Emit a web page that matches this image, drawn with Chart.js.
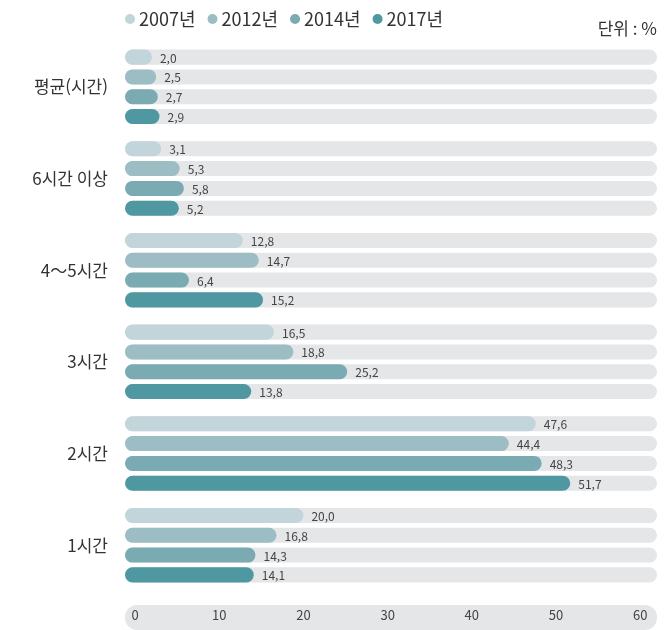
<!DOCTYPE html>
<html lang="ko">
<head>
  <meta charset="UTF-8">
  <title>평균 시간</title>
  <script src="https://cdn.jsdelivr.net/npm/chart.js"></script>
  <style>
    body { margin: 0; background: #fff; }
  </style>
</head>
<body>
  <canvas id="chart" width="668" height="630"></canvas>
  <script>
    const categories = ['평균(시간)', '6시간 이상', '4～5시간', '3시간', '2시간', '1시간'];
    const years = ['2007년', '2012년', '2014년', '2017년'];
    const v2007 = [2.0, 3.1, 12.8, 16.5, 47.6, 20.0];
    const v2012 = [2.5, 5.3, 14.7, 18.8, 44.4, 16.8];
    const v2014 = [2.7, 5.8, 6.4, 25.2, 48.3, 14.3];
    const v2017 = [2.9, 5.2, 15.2, 13.8, 51.7, 14.1];
    const xTicks = [0, 10, 20, 30, 40, 50, 60];
    const unitText = '단위 : %';

    const colors = ['#c2d5da', '#9dbdc4', '#7aabb2', '#4f98a2'];
    const trackColor = '#e5e6e8';
    const fontFamily = '"Noto Sans CJK KR", "Noto Sans", sans-serif';

    // rounded band behind the x axis (drawn before the axis labels)
    const axisBand = {
      id: 'axisBand',
      beforeDraw(chart) {
        const { ctx, chartArea, scales } = chart;
        const top = scales.x.top + 14;
        ctx.save();
        ctx.fillStyle = trackColor;
        ctx.beginPath();
        ctx.roundRect(chartArea.left, top, chartArea.right - chartArea.left, chart.height - top, 12);
        ctx.fill();
        ctx.restore();
      }
    };

    // gray tracks behind every bar
    const tracks = {
      id: 'tracks',
      beforeDatasetsDraw(chart) {
        const { ctx, chartArea } = chart;
        ctx.save();
        ctx.fillStyle = trackColor;
        chart.data.datasets.forEach((ds, i) => {
          chart.getDatasetMeta(i).data.forEach(bar => {
            const h = bar.height;
            ctx.beginPath();
            ctx.roundRect(chartArea.left, bar.y - h / 2, chartArea.right - chartArea.left, h, h / 2);
            ctx.fill();
          });
        });
        ctx.restore();
      }
    };

    // value labels, legend and unit note
    const labels = {
      id: 'labels',
      afterDatasetsDraw(chart) {
        const { ctx, chartArea } = chart;
        ctx.save();
        ctx.font = '12px ' + fontFamily;
        ctx.fillStyle = '#444';
        ctx.textBaseline = 'middle';
        ctx.textAlign = 'left';
        chart.data.datasets.forEach((ds, i) => {
          chart.getDatasetMeta(i).data.forEach((bar, j) => {
            ctx.fillText(ds.data[j].toFixed(1).replace('.', ','), bar.x + 8, bar.y + 1);
          });
        });

        // legend
        ctx.font = '18px ' + fontFamily;
        let x = chartArea.left;
        const y = 19;
        years.forEach((yr, i) => {
          ctx.fillStyle = colors[i];
          ctx.beginPath();
          ctx.arc(x + 5, y, 5, 0, Math.PI * 2);
          ctx.fill();
          ctx.fillStyle = '#333';
          ctx.fillText(yr, x + 14, y);
          x += 14 + ctx.measureText(yr).width + 12;
        });

        // unit
        ctx.font = '17px ' + fontFamily;
        ctx.textAlign = 'right';
        ctx.fillText(unitText, chartArea.right, 29);
        ctx.restore();
      }
    };

    const datasets = [v2007, v2012, v2014, v2017].map((d, i) => ({
      label: years[i],
      data: d,
      backgroundColor: colors[i],
      borderRadius: 8,
      borderSkipped: false,
      base: -1.2,
      categoryPercentage: 0.864,
      barPercentage: 0.76
    }));

    new Chart(document.getElementById('chart').getContext('2d'), {
      type: 'bar',
      data: { labels: categories, datasets },
      options: {
        indexAxis: 'y',
        responsive: false,
        maintainAspectRatio: false,
        animation: false,
        layout: { padding: { top: 41, right: 11, bottom: 0, left: 0 } },
        plugins: {
          legend: { display: false },
          tooltip: { enabled: false }
        },
        scales: {
          x: {
            min: -1.2,
            max: 62,
            afterBuildTicks(scale) {
              scale.ticks = xTicks.map(v => ({ value: v }));
            },
            afterFit(scale) { scale.height = 39; },
            grid: { display: false, drawTicks: false },
            border: { display: false },
            ticks: {
              padding: 16,
              color: '#444',
              font: { family: fontFamily, size: 13 }
            }
          },
          y: {
            afterFit(scale) { scale.width = 125; },
            grid: { display: false, drawTicks: false },
            border: { display: false },
            ticks: {
              padding: 17,
              color: '#333',
              font: { family: fontFamily, size: 17 }
            }
          }
        }
      },
      plugins: [axisBand, tracks, labels]
    });
  </script>
</body>
</html>
